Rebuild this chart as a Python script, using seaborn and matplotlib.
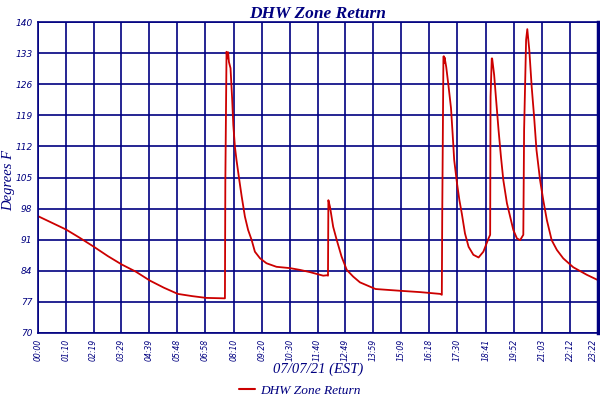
import matplotlib
matplotlib.use("Agg")
import matplotlib.pyplot as plt
import seaborn as sns
import pandas as pd
import numpy as np

# ---- data ----
minutes = [0, 35, 70, 105, 140, 175, 210, 245, 280, 315, 350, 386, 421, 468,
           469, 472, 474, 476, 478, 482, 486, 489, 493, 497, 504, 510, 518, 526,
           535, 543, 556, 572, 597, 631, 656, 681, 714, 724, 726,
           727, 731, 739, 748, 760, 773, 789, 806, 845, 907, 957, 1007, 1011,
           1012, 1015, 1016, 1017, 1018, 1022, 1028, 1034, 1038, 1042, 1049, 1055,
           1061, 1069, 1078, 1090, 1103, 1115, 1128, 1132,
           1133, 1136, 1137, 1142, 1147, 1153, 1159, 1165, 1174, 1182, 1190, 1199,
           1207, 1215,
           1217, 1222, 1225, 1230, 1236, 1242, 1248, 1257, 1265, 1274, 1286, 1299,
           1315, 1340, 1374, 1402]
temps = [96.3, 94.8, 93.3, 91.4, 89.4, 87.3, 85.4, 83.8, 81.8, 80.2, 78.8, 78.3, 77.9, 77.8,
         104.0, 133.3, 131.8, 133.2, 131.0, 129.6, 122.8, 116.8, 111.9, 108.9, 104.4, 100.7, 96.2, 93.2,
         90.9, 88.3, 86.8, 85.7, 84.9, 84.6, 84.2, 83.7, 82.9, 83.0, 82.9,
         99.9, 98.4, 93.9, 90.9, 87.2, 84.2, 82.7, 81.4, 79.9, 79.5, 79.2, 78.8, 78.6,
         96.2, 132.2, 132.3, 130.8, 132.0, 129.9, 125.4, 120.6, 114.9, 108.9, 103.7, 99.9,
         96.9, 92.4, 89.4, 87.6, 87.0, 88.3, 91.3, 92.1,
         123.2, 131.8, 131.8, 128.1, 122.4, 115.7, 109.7, 104.4, 99.2, 96.2, 93.2, 91.3,
         90.9, 92.1,
         115.7, 136.0, 138.4, 133.7, 125.4, 118.7, 111.2, 104.4, 99.9, 95.4, 90.9, 88.7,
         86.8, 84.8, 83.1, 81.9]
tick_labels = ["00:00", "01:10", "02:19", "03:29", "04:39", "05:48", "06:58", "08:10",
               "09:20", "10:30", "11:40", "12:49", "13:59", "15:09", "16:18", "17:30",
               "18:41", "19:52", "21:03", "22:12", "23:22"]
y_ticks = [70, 77, 84, 91, 98, 105, 112, 119, 126, 133, 140]
series_name = "DHW Zone Return"

df = pd.DataFrame({"minute": minutes, "temp": temps, "series": series_name})
tick_pos = [int(t[:2]) * 60 + int(t[3:]) for t in tick_labels]

NAVY = "#000080"
RED = "#CC0000"

sns.set_theme(style="white")
plt.rcParams["font.family"] = ["DejaVu Sans"]

fig = plt.figure(figsize=(6, 4), dpi=100)
ax = fig.add_axes([38 / 600, 1 - 333 / 400, 560 / 600, 311 / 400])

sns.lineplot(data=df, x="minute", y="temp", hue="series", palette=[RED],
             linewidth=1.3, ax=ax, legend=False)

ax.set_xlim(tick_pos[0], tick_pos[-1])
ax.set_ylim(70, 140)
ax.set_xticks(tick_pos)
ax.set_xticklabels(tick_labels, rotation=90, fontsize=5.6, fontstyle="italic",
                   color=NAVY)
xt = ax.get_xticklabels()
xt[-1].set_horizontalalignment("right")
ax.set_yticks(y_ticks)
ax.set_yticklabels([str(v) for v in y_ticks], fontsize=6.5, fontstyle="italic",
                   color=NAVY)
ax.tick_params(axis="both", length=2, width=0.8, color=NAVY, pad=2)

ax.grid(True, color=NAVY, linewidth=1.2)
ax.set_axisbelow(True)
for side in ["left", "bottom", "top"]:
    ax.spines[side].set_color(NAVY)
    ax.spines[side].set_linewidth(1.2)
ax.spines["right"].set_color(NAVY)
ax.spines["right"].set_linewidth(2.5)

serif = ["Liberation Serif", "DejaVu Serif"]
ax.set_title(series_name, fontsize=12.5, fontweight="bold", fontstyle="italic",
             family=serif, color=NAVY, pad=3)
ax.set_ylabel("Degrees F", fontsize=10.5, fontstyle="italic", family=serif,
              color=NAVY)
ax.yaxis.set_label_coords(-0.040, 0.49)
ax.set_xlabel("07/07/21 (EST)", fontsize=10.5, fontstyle="italic", family=serif,
              color=NAVY)
ax.xaxis.set_label_coords(0.5, -0.094)

handle = plt.Line2D([], [], color=RED, linewidth=1.5)
fig.legend([handle], [series_name], loc="lower center", bbox_to_anchor=(0.5, -0.022),
           frameon=False, handlelength=1.2, handletextpad=0.4,
           prop={"family": serif, "style": "italic", "size": 9.6}, labelcolor=NAVY)

fig.savefig("out.png", dpi=100)
